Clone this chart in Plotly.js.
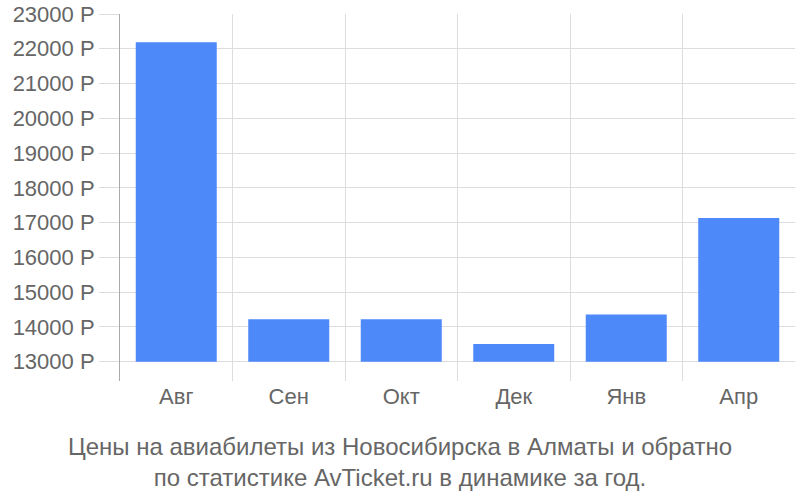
<!DOCTYPE html>
<html>
<head>
<meta charset="utf-8">
<script src="https://cdn.plot.ly/plotly-3.0.1.min.js"></script>
<style>
  html, body { margin: 0; padding: 0; background: #fff; }
  #plot { width: 800px; height: 500px; }
</style>
</head>
<body>
<div id="plot"></div>
<script>
// месяцы и средние цены (руб.)
var months = ["Авг", "Сен", "Окт", "Дек", "Янв", "Апр"];
var prices = [22190, 14220, 14220, 13510, 14360, 17130];
var baseValue = 13000;
var yTicks = [13000, 14000, 15000, 16000, 17000, 18000, 19000, 20000, 21000, 22000, 23000];

var textColor = "#666";
var gridColor = "#ddd";

// bars start from 13000, not from the bottom of the axis
var trace = {
    x: months,
    y: prices.map(p => p - baseValue),
    base: baseValue,
    type: "bar",
    marker: { color: "#4d89f9" },
    hoverinfo: "none"
};

var layout = {
    width: 800,
    height: 500,
    margin: { l: 120, r: 5, t: 14, b: 119 },
    paper_bgcolor: "#fff",
    plot_bgcolor: "#fff",
    font: { family: "Liberation Sans, Arial, sans-serif", size: 22, color: textColor },
    showlegend: false,
    bargap: 0.28,
    title: {
        text: "Цены на авиабилеты из Новосибирска в Алматы и обратно<br>по статистике AvTicket.ru в динамике за год.",
        font: { size: 24, color: textColor },
        x: 0.5,
        xanchor: "center",
        yref: "container",
        y: 0.09,
        yanchor: "middle"
    },
    xaxis: {
        type: "category",
        tickson: "boundaries",
        showgrid: true,
        gridcolor: gridColor,
        gridwidth: 1,
        ticks: "",
        showline: false,
        zeroline: false,
        tickfont: { size: 22, color: textColor }
    },
    yaxis: {
        range: [12445, 23000],
        tickmode: "array",
        tickvals: yTicks,
        ticktext: yTicks.map(v => v + " Р"),
        showgrid: true,
        gridcolor: gridColor,
        ticks: "outside",
        ticklen: 20,
        tickcolor: gridColor,
        showline: true,
        linecolor: "#aaa",
        linewidth: 1,
        zeroline: false,
        tickfont: { size: 22, color: textColor }
    }
};

Plotly.newPlot("plot", [trace], layout, { displayModeBar: false, staticPlot: true });
</script>
</body>
</html>
